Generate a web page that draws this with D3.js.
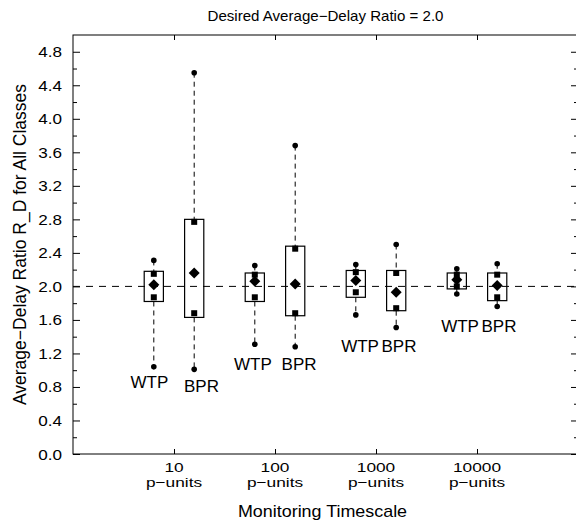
<!DOCTYPE html>
<html>
<head>
<meta charset="utf-8">
<script src="https://cdn.jsdelivr.net/npm/d3@7"></script>
<style>
  body { margin: 0; background: #fff; }
  text { font-family: "Liberation Sans", Arial, Helvetica, sans-serif; fill: #000; }
</style>
</head>
<body>
<div id="chart"></div>
<script>
// Monitoring timescales (x categories)
var timescales = ["10", "100", "1000", "10000"];
var tickUnit = "p\u2212units";

// WTP stats per timescale
var wtpMin    = [1.04, 1.31, 1.66, 1.91];
var wtpBoxLo  = [1.82, 1.82, 1.87, 1.97];
var wtpQLo    = [1.87, 1.87, 1.93, 2.00];
var wtpMean   = [2.02, 2.06, 2.07, 2.08];
var wtpQHi    = [2.15, 2.14, 2.17, 2.14];
var wtpBoxHi  = [2.18, 2.16, 2.19, 2.16];
var wtpMax    = [2.31, 2.25, 2.26, 2.21];

// BPR stats per timescale
var bprMin    = [1.01, 1.28, 1.51, 1.76];
var bprBoxLo  = [1.63, 1.65, 1.71, 1.83];
var bprQLo    = [1.68, 1.68, 1.74, 1.87];
var bprMean   = [2.16, 2.03, 1.93, 2.01];
var bprQHi    = [2.77, 2.45, 2.16, 2.14];
var bprBoxHi  = [2.80, 2.48, 2.19, 2.16];
var bprMax    = [4.55, 3.68, 2.50, 2.27];

var yTicks = [0, 0.4, 0.8, 1.2, 1.6, 2.0, 2.4, 2.8, 3.2, 3.6, 4.0, 4.4, 4.8];
var targetRatio = 2.0;

// Add a text that is a little wider than the font (the reference text is stretched)
function wideText(sel, x, y, str, size, sx, anchor) {
    return sel.append("text")
        .attr("transform", "translate(" + x + "," + y + ") scale(" + sx + ",1)")
        .attr("text-anchor", anchor || "middle")
        .style("font-size", size + "px")
        .text(str);
}

function create_box_chart(width, height) {
    var margin = { top: 35, right: -2, bottom: 70, left: 73 };
    var innerWidth = width - margin.left - margin.right;
    var innerHeight = height - margin.top - margin.bottom;

    d3.select("#chart").select("svg").remove();

    var svg = d3.select("#chart").append("svg")
        .attr("width", width)
        .attr("height", height)
        .append("g")
        .attr("transform", "translate(" + margin.left + "," + margin.top + ")");

    // Scales
    var x = d3.scaleLinear().domain([0, 5]).range([0, innerWidth]);
    var y = d3.scaleLinear().domain([0, 5]).range([innerHeight, 0]);

    // Build the box table from the arrays
    var boxes = [];
    timescales.forEach(function (t, i) {
        boxes.push({ name: "WTP", pos: i + 1 - 0.2, min: wtpMin[i], lo: wtpBoxLo[i], qlo: wtpQLo[i],
            mean: wtpMean[i], qhi: wtpQHi[i], hi: wtpBoxHi[i], max: wtpMax[i] });
        boxes.push({ name: "BPR", pos: i + 1 + 0.2, min: bprMin[i], lo: bprBoxLo[i], qlo: bprQLo[i],
            mean: bprMean[i], qhi: bprQHi[i], hi: bprBoxHi[i], max: bprMax[i] });
    });

    // label placement (data units) for the WTP / BPR names
    var labelPos = [
        [0.757, 0.79], [1.272, 0.74],
        [1.782, 1.00], [2.238, 1.00],
        [2.842, 1.22], [3.228, 1.22],
        [3.832, 1.46], [4.218, 1.46]
    ];

    // Frame
    svg.append("rect")
        .attr("x", 0).attr("y", 0)
        .attr("width", innerWidth).attr("height", innerHeight)
        .style("fill", "none").style("stroke", "#000").style("stroke-width", 1);

    var minorTicks = yTicks.slice(0, -1).map(function (d) { return d + 0.2; });

    // Left axis: major + minor ticks pointing inward
    var gy = svg.append("g").attr("class", "y axis")
        .call(d3.axisLeft(y).tickValues(yTicks).tickFormat("").tickSize(-7));
    gy.select(".domain").remove();
    svg.append("g").call(d3.axisLeft(y).tickValues(minorTicks).tickFormat("").tickSize(-4))
        .select(".domain").remove();
    yTicks.forEach(function (v) {
        wideText(svg, -11, y(v) + 5.5, d3.format(".1f")(v), 15, 1.14, "end");
    });

    // Right axis (mirror)
    svg.append("g").attr("transform", "translate(" + innerWidth + ",0)")
        .call(d3.axisRight(y).tickValues(yTicks).tickFormat("").tickSize(-7))
        .select(".domain").remove();
    svg.append("g").attr("transform", "translate(" + innerWidth + ",0)")
        .call(d3.axisRight(y).tickValues(minorTicks).tickFormat("").tickSize(-4))
        .select(".domain").remove();

    // Bottom axis
    svg.append("g").attr("class", "x axis")
        .attr("transform", "translate(0," + innerHeight + ")")
        .call(d3.axisBottom(x).tickValues([1, 2, 3, 4]).tickFormat("").tickSize(-5))
        .select(".domain").remove();
    timescales.forEach(function (t, i) {
        wideText(svg, x(i + 1), innerHeight + 18, t, 13.5, 1.28);
        wideText(svg, x(i + 1), innerHeight + 33, tickUnit, 13.5, 1.28);
    });

    // Top axis (mirror)
    svg.append("g")
        .call(d3.axisTop(x).tickValues([1, 2, 3, 4]).tickFormat("").tickSize(-5))
        .select(".domain").remove();

    // Target ratio reference line
    svg.append("line")
        .attr("x1", 0).attr("x2", innerWidth)
        .attr("y1", y(targetRatio)).attr("y2", y(targetRatio))
        .style("stroke", "#000").style("stroke-dasharray", "7,6");

    var bw = 0.095;
    var box = svg.selectAll(".box").data(boxes).enter().append("g").attr("class", "box");

    // whiskers
    box.append("line")
        .attr("x1", d => x(d.pos)).attr("x2", d => x(d.pos))
        .attr("y1", d => y(d.max)).attr("y2", d => y(d.hi))
        .style("stroke", "#000").style("stroke-dasharray", "5,4");
    box.append("line")
        .attr("x1", d => x(d.pos)).attr("x2", d => x(d.pos))
        .attr("y1", d => y(d.lo)).attr("y2", d => y(d.min))
        .style("stroke", "#000").style("stroke-dasharray", "5,4");

    // boxes
    box.append("rect")
        .attr("x", d => x(d.pos - bw))
        .attr("width", d => x(d.pos + bw) - x(d.pos - bw))
        .attr("y", d => y(d.hi))
        .attr("height", d => y(d.lo) - y(d.hi))
        .style("fill", "none").style("stroke", "#000").style("stroke-width", 1.2);

    // min / max dots
    ["min", "max"].forEach(function (k) {
        box.append("circle")
            .attr("cx", d => x(d.pos)).attr("cy", d => y(d[k]))
            .attr("r", 2.8).style("fill", "#000");
    });

    // square markers
    ["qlo", "qhi"].forEach(function (k) {
        box.append("rect")
            .attr("x", d => x(d.pos) - 3).attr("y", d => y(d[k]) - 3)
            .attr("width", 6).attr("height", 6).style("fill", "#000");
    });

    // mean diamond
    box.append("path")
        .attr("transform", d => "translate(" + x(d.pos) + "," + y(d.mean) + ")")
        .attr("d", "M0,-5.5L5.5,0L0,5.5L-5.5,0Z")
        .style("fill", "#000");

    // method names
    box.append("text")
        .attr("x", (d, i) => x(labelPos[i][0]))
        .attr("y", (d, i) => y(labelPos[i][1]))
        .attr("text-anchor", "middle")
        .style("font-size", "17px")
        .text(d => d.name);

    // Titles
    wideText(svg, innerWidth / 2, -14, "Desired Average\u2212Delay Ratio = 2.0", 14.5, 1.04);
    wideText(svg, innerWidth / 2 - 3, innerHeight + 63, "Monitoring Timescale", 16, 1.12);

    svg.append("text")
        .attr("text-anchor", "middle")
        .attr("transform", "rotate(-90)")
        .attr("x", -innerHeight / 2)
        .attr("y", -margin.left + 26)
        .style("font-size", "17.5px")
        .text("Average\u2212Delay Ratio R_D for All Classes");
}

create_box_chart(576, 524);
</script>
</body>
</html>
